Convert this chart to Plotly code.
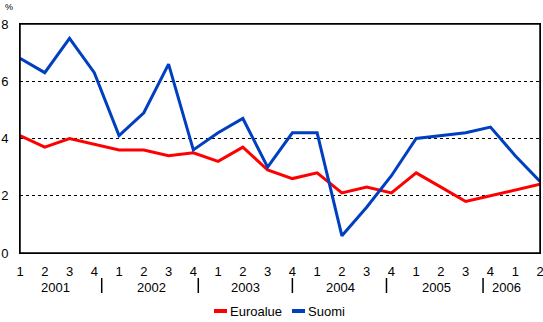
import plotly.graph_objects as go

quarters = ["1", "2", "3", "4", "1", "2", "3", "4", "1", "2", "3", "4",
            "1", "2", "3", "4", "1", "2", "3", "4", "1", "2"]
years = ["2001", "2002", "2003", "2004", "2005", "2006"]
year_pos = [1.45, 5.3, 9.1, 12.95, 16.8, 19.65]
sep_pos = [3.3, 7.2, 11.0, 14.8, 18.7]
euroalue = [4.1, 3.7, 4.0, 3.8, 3.6, 3.6, 3.4, 3.5, 3.2, 3.7, 2.9, 2.6,
            2.8, 2.1, 2.3, 2.1, 2.8, 2.3, 1.8, 2.0, 2.2, 2.4]
suomi = [6.8, 6.3, 7.5, 6.3, 4.1, 4.9, 6.6, 3.6, 4.2, 4.7, 3.0, 4.2,
         4.2, 0.6, 1.6, 2.7, 4.0, 4.1, 4.2, 4.4, 3.4, 2.5]
series_names = ["Euroalue", "Suomi"]
series_colors = ["#FF0000", "#0040C0"]

x = list(range(len(quarters)))
FONT = "Liberation Sans, Arial, sans-serif"

W, H = 543, 322
L, R, T, B = 20, 3, 24, 69
pw, ph = W - L - R, H - T - B

def px(pix):
    return (pix - L) / pw

def py(pix):
    return (H - B - pix) / ph

fig = go.Figure()
for name, vals, col in zip(series_names, [euroalue, suomi], series_colors):
    fig.add_trace(go.Scatter(x=x, y=vals, mode="lines", name=name,
                             line=dict(color=col, width=3), showlegend=False))

annotations = []
for yr, p in zip(years, year_pos):
    annotations.append(dict(x=p, y=py(287), xref="x", yref="paper", text=yr,
                            showarrow=False, font=dict(size=13, color="black", family=FONT),
                            xanchor="center", yanchor="middle"))
annotations.append(dict(x=px(3), y=py(7), xref="paper", yref="paper", text="%",
                        showarrow=False, font=dict(size=9, color="black", family=FONT),
                        xanchor="left", yanchor="middle"))

shapes = [dict(type="rect", xref="paper", yref="paper", x0=0, x1=1, y0=0, y1=1,
               line=dict(color="black", width=1.5), layer="above")]
for s in sep_pos:
    shapes.append(dict(type="line", xref="x", yref="paper", x0=s, x1=s,
                       y0=py(278), y1=py(293), line=dict(color="black", width=1.5)))

leg_x = [214, 292]
for name, col, lx in zip(series_names, series_colors, leg_x):
    shapes.append(dict(type="line", xref="paper", yref="paper",
                       x0=px(lx), x1=px(lx + 13), y0=py(311), y1=py(311),
                       line=dict(color=col, width=4)))
    annotations.append(dict(x=px(lx + 14), y=py(311), xref="paper", yref="paper",
                            text=name, showarrow=False,
                            font=dict(size=13, color="black", family=FONT),
                            xanchor="left", yanchor="middle"))

fig.update_layout(
    width=W, height=H,
    margin=dict(l=L, r=R, t=T, b=B, autoexpand=False),
    paper_bgcolor="white", plot_bgcolor="white",
    font=dict(family=FONT, size=13, color="black"),
    showlegend=False,
    xaxis=dict(range=[0, 21], tickvals=x, ticktext=quarters, showgrid=False,
               zeroline=False, showline=True, mirror=True, linecolor="black",
               linewidth=1, ticks="", ticklabelstandoff=6,
               ticklabeloverflow="allow", fixedrange=True, automargin=False),
    yaxis=dict(range=[0, 8], tickvals=[0, 2, 4, 6, 8], showgrid=True,
               gridcolor="black", griddash="3px,3px", gridwidth=1,
               zeroline=False, showline=True, mirror=True, linecolor="black",
               linewidth=1, ticks="", ticklabelstandoff=8,
               automargin=False),
    annotations=annotations,
    shapes=shapes,
)

fig.write_html("out.html")
